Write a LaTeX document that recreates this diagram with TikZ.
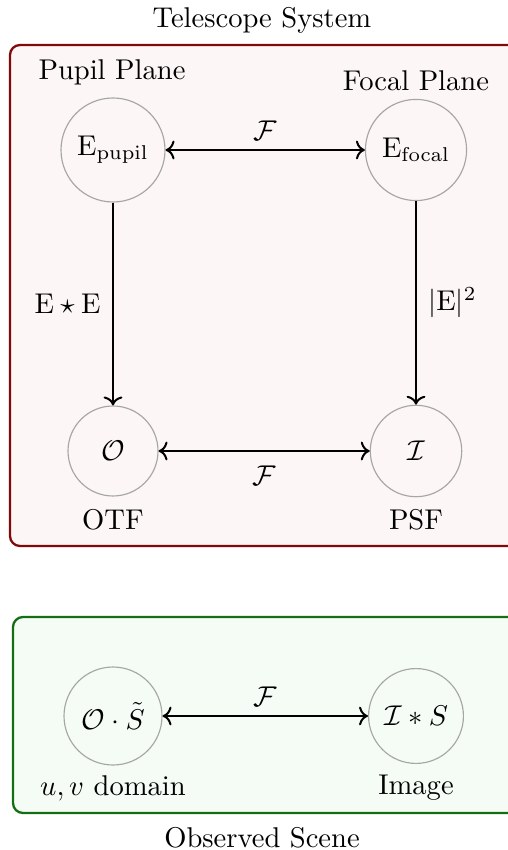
\documentclass[tikz,border=0pt]{standalone}
\usetikzlibrary{arrows.meta}
\definecolor{boxred}{RGB}{128,10,10}
\definecolor{fillred}{RGB}{252,246,246}
\definecolor{boxgreen}{RGB}{20,110,20}
\definecolor{fillgreen}{RGB}{245,252,245}
\begin{document}
\begin{tikzpicture}[x=0.35pt,y=-0.35pt,
  circ/.style={circle,draw=gray!70,line width=0.4pt,inner sep=0pt,minimum size=#1},
  conn/.style={line width=0.7pt,<->},
  dconn/.style={line width=0.7pt,->},
  lbl/.style={inner sep=0pt},
  redbox/.style={draw=boxred,fill=fillred,line width=0.8pt,rounded corners=3.5pt},
  greenbox/.style={draw=boxgreen,fill=fillgreen,line width=0.8pt,rounded corners=3.5pt}]
\useasboundingbox (0,0) rectangle (507,850);
\draw[redbox] (10,45) rectangle (540,546);
\draw[greenbox] (13,617) rectangle (540,813);

\node[lbl] (ttl) at (262,20) {Telescope System};
\node[lbl] (obs) at (262,838) {Observed Scene};

\node[circ=36.4pt] (ep) at (113,150) {$\mathrm{E}_{\mathrm{pupil}}$};
\node[circ=35.4pt] (ef) at (416,150) {$\mathrm{E}_{\mathrm{focal}}$};
\node[circ=31.5pt] (o) at (113,451) {$\mathcal{O}$};
\node[circ=32pt] (i) at (416,451) {$\mathcal{I}$};
\node[circ=34.3pt] (os) at (113,716) {$\mathcal{O}\cdot\tilde{S}$};
\node[circ=33.2pt] (is) at (416,716) {$\mathcal{I}*S$};

\node[lbl] (pp) at (112,72) {Pupil Plane};
\node[lbl] (fp) at (416,81) {Focal Plane};
\node[lbl] (otf) at (113,520) {OTF};
\node[lbl] (psf) at (416,520) {PSF};
\node[lbl] (uv) at (113,788) {$u,v$ domain};
\node[lbl] (img) at (416,788) {Image};

\draw[conn] (ep) -- node[lbl,above=3pt] {$\mathcal{F}$} (ef);
\draw[conn] (o) -- node[lbl,below=5pt] {$\mathcal{F}$} (i);
\draw[conn] (os) -- node[lbl,above=3pt] {$\mathcal{F}$} (is);
\draw[dconn] (ep) -- node[lbl,left=4pt] {$\mathrm{E}\star\mathrm{E}$} (o);
\draw[dconn] (ef) -- node[lbl,right=4pt] {$|\mathrm{E}|^2$} (i);
\end{tikzpicture}
\end{document}
